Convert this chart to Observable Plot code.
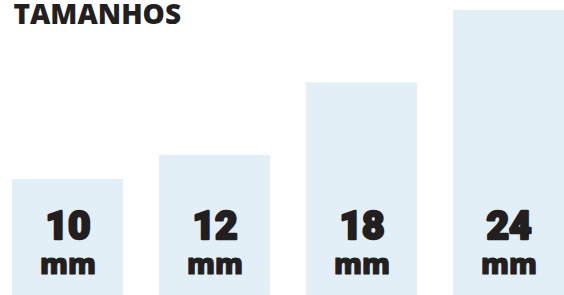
<!DOCTYPE html>
<html>
<head>
<meta charset="utf-8">
<script src="https://cdn.jsdelivr.net/npm/d3@7"></script>
<script src="https://cdn.jsdelivr.net/npm/@observablehq/plot@0.6"></script>
<style>
  html, body { margin: 0; padding: 0; background: #fff; }
  #chart { width: 564px; height: 295px; }
</style>
</head>
<body>
<div id="chart"></div>
<script>
const title = "TAMANHOS";
const sizes = ["10", "12", "18", "24"];
const values = [10, 12, 18, 24];
const unit = "mm";

const data = sizes.map((s, i) => ({size: s, value: values[i]}));

const plot = Plot.plot({
  width: 564,
  height: 295,
  marginTop: 0, marginRight: 0, marginBottom: 0, marginLeft: 0,
  style: {background: "#ffffff", overflow: "visible"},
  x: {domain: sizes, range: [11, 564], paddingInner: 0.247, paddingOuter: 0, axis: null},
  y: {domain: [0, 24], range: [299.7, 10], axis: null},
  marks: [
    Plot.barY(data, {x: "size", y: "value", fill: "#e2eff6"}),
    Plot.text(data, {
      x: "size", text: "size", frameAnchor: "bottom", lineAnchor: "bottom", dy: -57,
      fontSize: 39, fontWeight: 900, fontFamily: "Roboto", fill: "#231f20",
      stroke: "#231f20", strokeWidth: 2.4, letterSpacing: "1px"
    }),
    Plot.text(data, {
      x: "size", text: () => unit, frameAnchor: "bottom", lineAnchor: "bottom", dy: -22,
      fontSize: 28, fontWeight: 800, fontFamily: "'Open Sans'", fill: "#231f20",
      stroke: "#231f20", strokeWidth: 1
    }),
    Plot.text([title], {
      text: d => d, frameAnchor: "top-left", lineAnchor: "bottom", dx: 13, dy: 23,
      fontSize: 28, fontWeight: 800, fontFamily: "'Open Sans'", fill: "#231f20"
    })
  ]
});
document.getElementById("chart").appendChild(plot);
</script>
</body>
</html>
